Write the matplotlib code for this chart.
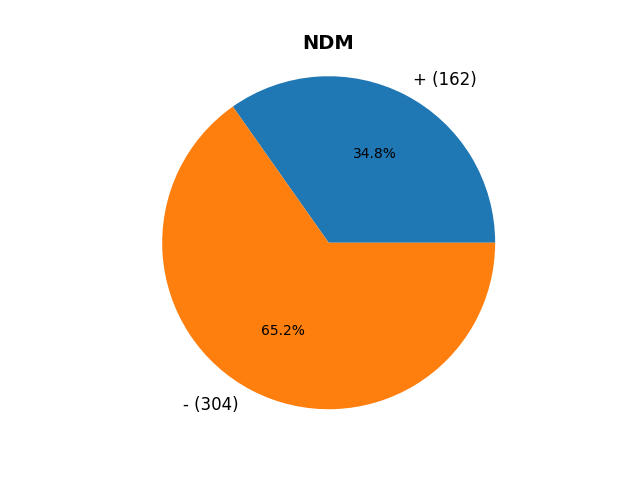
import matplotlib
matplotlib.use("Agg")
import matplotlib.pyplot as plt

labels = ["+ (162)", "- (304) "]
values = [162, 304]
title = "NDM"

fig, ax = plt.subplots(figsize=(6.4, 4.8), dpi=100)
wedges, texts, autotexts = ax.pie(values, labels=labels, autopct="%1.1f%%",
                                  textprops={"fontsize": 10})
for t in texts:
    t.set_fontsize(12)
ax.set_aspect("equal")
ax.set_xlim(-1.114, 1.106)
ax.set_ylim(-1.108, 1.112)
ax.set_title(title, fontsize=14, fontweight="bold")
fig.savefig("out.png")
